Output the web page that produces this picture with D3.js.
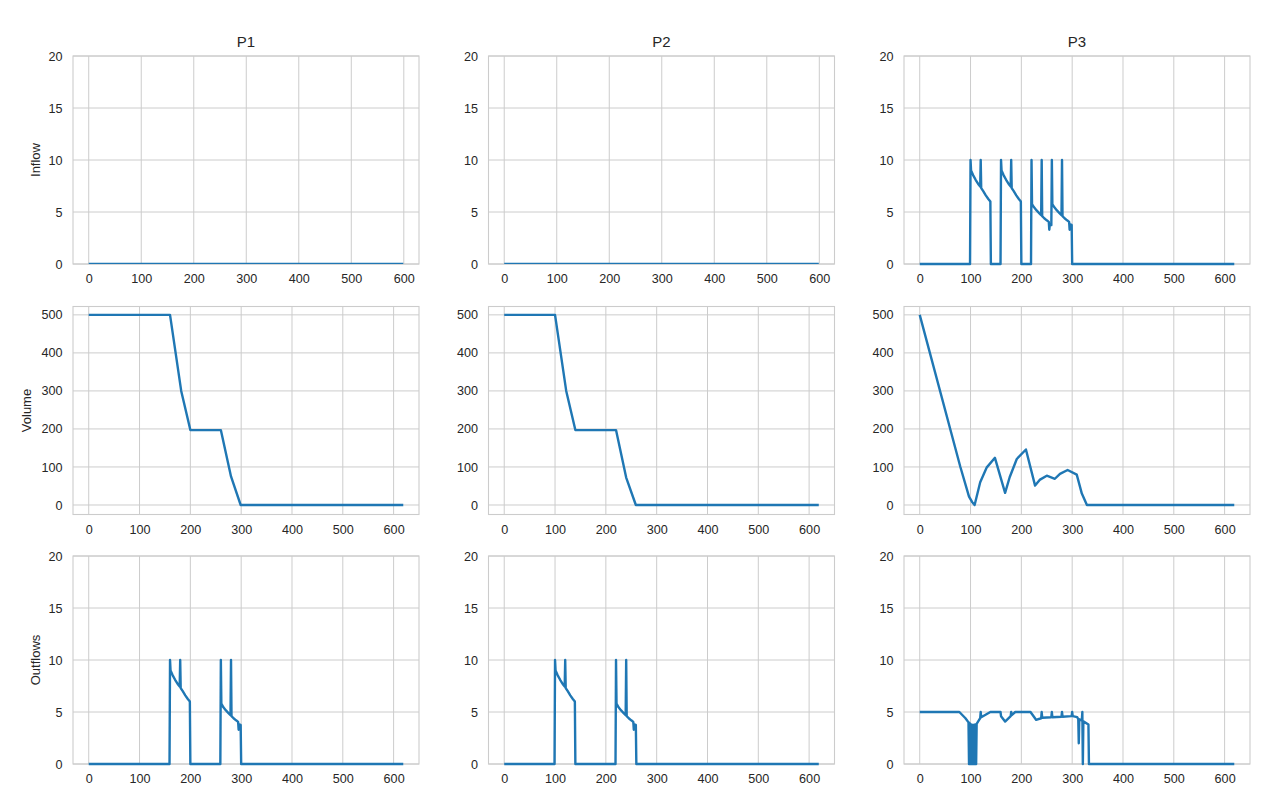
<!DOCTYPE html>
<html>
<head>
<meta charset="utf-8">
<script src="https://cdn.jsdelivr.net/npm/d3@7"></script>
<style>
  html, body { margin: 0; padding: 0; background: #fff; }
  svg { display: block; }
  text { font-family: "Liberation Sans", Arial, "DejaVu Sans", sans-serif; fill: #262626; }
</style>
</head>
<body>
<svg id="chart" width="1274" height="810"></svg>
<script>
// ---------------- data ----------------
const columns = ["P1", "P2", "P3"];
const rowLabels = ["Inflow", "Volume", "Outflows"];

const xTicks = [0, 100, 200, 300, 400, 500, 600];
const flowTicks = [0, 5, 10, 15, 20];
const volumeTicks = [0, 100, 200, 300, 400, 500];

// Inflow
const p1Inflow = [[0, 0], [599, 0]];
const p2Inflow = [[0, 0], [599, 0]];
const p3Inflow = [
  [0, 0], [99, 0],
  [100, 10], [101, 9.0], [105, 8.55], [110, 8.1], [115, 7.7], [119, 7.45],
  [120, 10], [121, 7.3], [125, 7.0], [130, 6.6], [135, 6.25], [139, 6.0],
  [140, 0], [159, 0],
  [160, 10], [161, 9.0], [165, 8.55], [170, 8.1], [175, 7.7], [179, 7.45],
  [180, 10], [181, 7.3], [185, 7.0], [190, 6.6], [195, 6.25], [199, 6.0],
  [200, 0], [219, 0],
  [220, 10], [221, 5.75], [225, 5.45], [230, 5.15], [235, 4.9], [239, 4.7],
  [240, 10], [241, 4.6], [245, 4.4], [250, 4.2], [254, 4.05], [255, 3.3], [256, 3.8], [259, 3.75],
  [260, 10], [261, 5.75], [265, 5.45], [270, 5.15], [275, 4.9], [279, 4.7],
  [280, 10], [281, 4.6], [285, 4.4], [290, 4.2], [294, 4.05], [295, 3.3], [296, 3.8], [299, 3.75],
  [300, 0], [619, 0]
];

// Volume
const p1Volume = [[0, 500], [160, 500], [182, 300], [200, 197], [260, 197], [280, 75], [299, 0], [619, 0]];
const p2Volume = [[0, 500], [100, 500], [122, 300], [140, 197], [220, 197], [240, 72], [259, 0], [619, 0]];
const p3Volume = [
  [0, 500], [80, 100], [97, 22], [103, 8], [108, 0], [119, 60], [132, 99], [148, 124],
  [168, 32], [177, 73], [191, 121], [209, 146], [227, 51], [236, 66], [250, 77],
  [266, 69], [276, 82], [291, 92], [309, 80], [319, 30], [329, 0], [619, 0]
];

// Outflows
const p1Outflow = [
  [0, 0], [159, 0],
  [160, 10], [161, 9.0], [165, 8.55], [170, 8.1], [175, 7.7], [179, 7.45],
  [180, 10], [181, 7.3], [185, 7.0], [190, 6.6], [195, 6.25], [199, 6.0],
  [200, 0], [259, 0],
  [260, 10], [261, 5.8], [265, 5.45], [270, 5.15], [275, 4.9], [279, 4.7],
  [280, 10], [281, 4.6], [285, 4.4], [290, 4.2], [294, 4.05], [295, 3.3], [296, 3.8], [299, 3.75],
  [300, 0], [619, 0]
];
const p2Outflow = [
  [0, 0], [99, 0],
  [100, 10], [101, 9.0], [105, 8.55], [110, 8.1], [115, 7.7], [119, 7.45],
  [120, 10], [121, 7.3], [125, 7.0], [130, 6.6], [135, 6.25], [139, 6.0],
  [140, 0], [219, 0],
  [220, 10], [221, 5.8], [225, 5.45], [230, 5.15], [235, 4.9], [239, 4.7],
  [240, 10], [241, 4.6], [245, 4.4], [250, 4.2], [254, 4.05], [255, 3.3], [256, 3.8], [259, 3.75],
  [260, 0], [619, 0]
];
const p3Outflow = [
  [0, 5], [78, 5], [90, 4.4], [96, 4.0],
  [97, 0], [98, 3.95], [99, 0], [100, 3.85], [101, 0], [102, 3.78], [103, 0], [104, 3.75],
  [105, 0], [106, 3.75], [107, 0], [108, 3.78], [109, 0], [110, 3.8], [111, 0], [112, 3.85],
  [119, 4.4], [120, 5], [121, 4.5], [139, 5], [159, 5], [160, 4.6], [168, 4.08],
  [179, 4.6], [180, 5], [181, 4.7], [188, 5], [218, 5], [229, 4.25], [239, 4.4],
  [240, 5], [241, 4.45], [259, 4.5], [260, 5], [261, 4.5], [279, 4.55],
  [280, 5], [281, 4.55], [299, 4.6], [300, 5], [301, 4.6], [310, 4.5], [312, 4.3],
  [313, 2.0], [314, 4.3], [319, 4.2], [320, 5], [321, 0], [322, 4.1], [332, 3.8],
  [333, 0], [619, 0]
];

const grid = [
  [p1Inflow, p2Inflow, p3Inflow],
  [p1Volume, p2Volume, p3Volume],
  [p1Outflow, p2Outflow, p3Outflow]
];
const rowTicks = [flowTicks, volumeTicks, flowTicks];

// ---------------- layout ----------------
const axLefts = [73, 488.5, 904];
const axTops = [56, 306.5, 556];
const axW = 346, axH = 208;
const yDomains = [[0, 20], [-25, 522], [0, 20]];
const labelX = [39.5, 31, 39.5];
const lineColor = "#1f77b4";
const gridColor = "#cccccc";
const fontStack = "'Liberation Sans', Arial, sans-serif";

const svg = d3.select("#chart");

function xDomainOf(data) {
  const ext = d3.extent(data, d => d[0]);
  const m = (ext[1] - ext[0]) * 0.05;
  return [ext[0] - m, ext[1] + m];
}

for (let r = 0; r < 3; r++) {
  for (let c = 0; c < 3; c++) {
    const data = grid[r][c];
    const x0 = axLefts[c], y0 = axTops[r];
    const g = svg.append("g").attr("transform", `translate(${x0},${y0})`);
    const x = d3.scaleLinear().domain(xDomainOf(data)).range([0, axW]);
    const y = d3.scaleLinear().domain(yDomains[r]).range([axH, 0]);

    // grid lines
    g.append("g").selectAll("line").data(xTicks).join("line")
      .attr("x1", d => x(d)).attr("x2", d => x(d))
      .attr("y1", 0).attr("y2", axH)
      .attr("stroke", gridColor).attr("stroke-width", 1);
    g.append("g").selectAll("line").data(rowTicks[r]).join("line")
      .attr("x1", 0).attr("x2", axW)
      .attr("y1", d => y(d)).attr("y2", d => y(d))
      .attr("stroke", gridColor).attr("stroke-width", 1);

    // spines
    g.append("rect").attr("x", 0).attr("y", 0).attr("width", axW).attr("height", axH)
      .attr("fill", "none").attr("stroke", gridColor).attr("stroke-width", 1.1);

    // axes (labels only)
    const xAxis = d3.axisBottom(x).tickValues(xTicks).tickSize(0).tickPadding(0).tickFormat(d3.format("d"));
    const xa = g.append("g").attr("transform", `translate(0,${axH})`).call(xAxis);
    xa.select(".domain").remove();
    xa.selectAll("text").attr("y", 19).attr("dy", null)
      .style("font-size", "12.6px").style("fill", "#262626")
      .style("font-family", fontStack);

    const yAxis = d3.axisLeft(y).tickValues(rowTicks[r]).tickSize(0).tickPadding(10.5).tickFormat(d3.format("d"));
    const ya = g.append("g").call(yAxis);
    ya.select(".domain").remove();
    ya.selectAll("text")
      .style("font-size", "12.6px").style("fill", "#262626")
      .style("font-family", fontStack);

    // line
    const line = d3.line().x(d => x(d[0])).y(d => y(d[1]));
    const allZero = d3.max(data, d => d[1]) === 0;
    g.append("path").datum(data)
      .attr("d", line)
      .attr("fill", "none")
      .attr("stroke", lineColor)
      .attr("stroke-width", allZero ? 1.3 : 2.4)
      .attr("stroke-linejoin", "round")
      .attr("stroke-linecap", "butt")
      .attr("transform", allZero ? "translate(0,-0.6)" : null);

    // title
    if (r === 0) {
      g.append("text").attr("x", axW / 2).attr("y", -9.3)
        .attr("text-anchor", "middle").style("font-size", "15px").text(columns[c]);
    }
    // row label
    if (c === 0) {
      svg.append("text")
        .attr("transform", `translate(${labelX[r]},${y0 + axH / 2}) rotate(-90)`)
        .attr("text-anchor", "middle").style("font-size", "13px").text(rowLabels[r]);
    }
  }
}
</script>
</body>
</html>
